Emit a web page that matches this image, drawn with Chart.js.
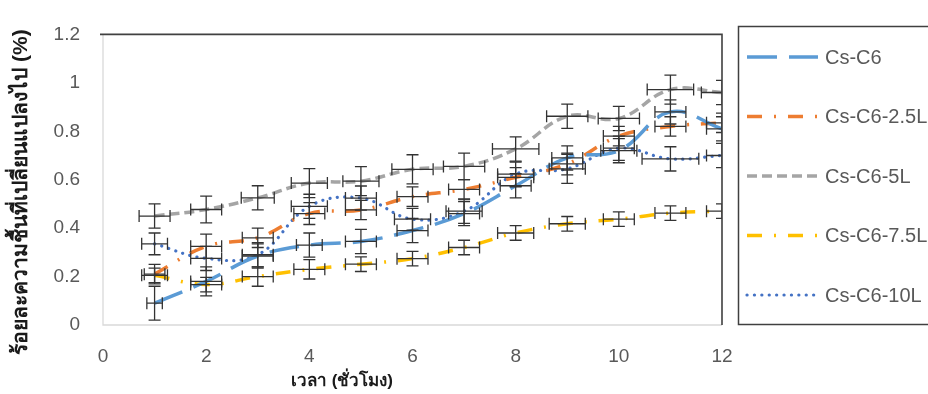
<!DOCTYPE html>
<html>
<head>
<meta charset="utf-8">
<script src="https://cdn.jsdelivr.net/npm/chart.js@4/dist/chart.umd.min.js"></script>
<style>
    html, body { margin: 0; padding: 0; background: #ffffff; }
    #grafico { display: block; }
</style>
</head>
<body>
<canvas id="grafico" width="928" height="394"></canvas>
<script>
// horas de medición
const horas = [1, 2, 3, 4, 5, 6, 7, 8, 9, 10, 11, 12];

const etiquetas = ["Cs-C6", "Cs-C6-2.5L", "Cs-C6-5L", "Cs-C6-7.5L", "Cs-C6-10L"];

// valores (%)
const csC6    = [0.09, 0.18, 0.285, 0.33, 0.345, 0.39, 0.46, 0.575, 0.69, 0.72, 0.88, 0.81];
const csC6_25 = [0.21, 0.325, 0.36, 0.46, 0.475, 0.53, 0.56, 0.61, 0.665, 0.78, 0.82, 0.835];
const csC6_5  = [0.45, 0.477, 0.525, 0.586, 0.594, 0.643, 0.655, 0.727, 0.862, 0.853, 0.972, 0.96];
const csC6_75 = [0.205, 0.167, 0.2, 0.23, 0.251, 0.274, 0.32, 0.38, 0.418, 0.437, 0.462, 0.47];
const csC6_10 = [0.335, 0.275, 0.29, 0.49, 0.524, 0.437, 0.47, 0.623, 0.645, 0.73, 0.686, 0.70];

// barras de error en y
const errY_csC6    = [0.07, 0.06, 0.05, 0.05, 0.05, 0.05, 0.05, 0.05, 0.05, 0.05, 0.05, 0.05];
const errY_csC6_25 = [0.04, 0.05, 0.04, 0.045, 0.04, 0.04, 0.04, 0.04, 0.045, 0.04, 0.04, 0.04];
const errY_csC6_5  = [0.05, 0.055, 0.05, 0.06, 0.06, 0.06, 0.055, 0.05, 0.05, 0.05, 0.06, 0.05];
const errY_csC6_75 = [0.03, 0.03, 0.04, 0.04, 0.03, 0.03, 0.03, 0.03, 0.03, 0.03, 0.03, 0.03];
const errY_csC6_10 = [0.045, 0.05, 0.05, 0.05, 0.05, 0.045, 0.05, 0.05, 0.06, 0.05, 0.05, 0.05];

// barras de error en x (horas)
const errX_csC6    = [0.15, 0.3, 0.3, 0.25, 0.3, 0.3, 0.3, 0.3, 0.3, 0.35, 0.3, 0.3];
const errX_csC6_25 = [0.2, 0.3, 0.3, 0.3, 0.3, 0.3, 0.3, 0.35, 0.3, 0.3, 0.3, 0.3];
const errX_csC6_5  = [0.3, 0.3, 0.32, 0.35, 0.35, 0.4, 0.4, 0.45, 0.4, 0.4, 0.45, 0.4];
const errX_csC6_75 = [0.25, 0.3, 0.3, 0.3, 0.3, 0.3, 0.3, 0.35, 0.35, 0.3, 0.3, 0.3];
const errX_csC6_10 = [0.25, 0.3, 0.3, 0.35, 0.3, 0.35, 0.35, 0.35, 0.35, 0.3, 0.55, 0.3];

const ticksX = [0, 2, 4, 6, 8, 10, 12];
const ticksY = [0, 0.2, 0.4, 0.6, 0.8, 1, 1.2];

const tituloX = "เวลา (ชั่วโมง)";
const tituloY = "ร้อยละความชื้นที่เปลี่ยนแปลงไป (%)";

const fuenteTexto = "'Liberation Sans', 'Noto Sans', 'DejaVu Sans', sans-serif";

function puntos(valores) {
    return horas.map((h, i) => ({ x: h, y: valores[i] }));
}

const estilos = [
    { color: "#5B9BD5", dash: [30, 12], cap: "butt", ancho: 3.5 },
    { color: "#ED7D31", dash: [15, 12, 2, 12], cap: "butt", ancho: 3.5 },
    { color: "#A5A5A5", dash: [10, 5], cap: "butt", ancho: 3.5 },
    { color: "#FFC000", dash: [15, 12, 2, 12], cap: "butt", ancho: 3.5 },
    { color: "#4472C4", dash: [0.1, 7.3], cap: "round", ancho: 3.2 }
];

const series = [csC6, csC6_25, csC6_5, csC6_75, csC6_10];
const erroresY = [errY_csC6, errY_csC6_25, errY_csC6_5, errY_csC6_75, errY_csC6_10];
const erroresX = [errX_csC6, errX_csC6_25, errX_csC6_5, errX_csC6_75, errX_csC6_10];

// barras de error, marco y leyenda
const extras = {
    id: "extras",
    afterDatasetsDraw(chart) {
        const ctx = chart.ctx;
        const area = chart.chartArea;
        const ex = chart.scales.x;
        const ey = chart.scales.y;
        ctx.save();
        ctx.beginPath();
        ctx.rect(area.left, area.top, area.right - area.left, area.bottom - area.top);
        ctx.clip();
        ctx.strokeStyle = "#333333";
        ctx.lineWidth = 1.3;
        const tapa = 6;
        series.forEach((valores, s) => {
            valores.forEach((v, i) => {
                const px = ex.getPixelForValue(horas[i]);
                const py = ey.getPixelForValue(v);
                const y1 = ey.getPixelForValue(v + erroresY[s][i]);
                const y2 = ey.getPixelForValue(v - erroresY[s][i]);
                const x1 = ex.getPixelForValue(horas[i] - erroresX[s][i]);
                const x2 = ex.getPixelForValue(horas[i] + erroresX[s][i]);
                ctx.beginPath();
                ctx.moveTo(px, y1); ctx.lineTo(px, y2);
                ctx.moveTo(px - tapa, y1); ctx.lineTo(px + tapa, y1);
                ctx.moveTo(px - tapa, y2); ctx.lineTo(px + tapa, y2);
                ctx.moveTo(x1, py); ctx.lineTo(x2, py);
                ctx.moveTo(x1, py - tapa); ctx.lineTo(x1, py + tapa);
                ctx.moveTo(x2, py - tapa); ctx.lineTo(x2, py + tapa);
                ctx.stroke();
            });
        });
        ctx.restore();
    },
    afterDraw(chart) {
        const ctx = chart.ctx;
        const area = chart.chartArea;
        ctx.save();
        // marco del área de trazado
        ctx.lineWidth = 1.3;
        ctx.strokeStyle = "#D9D9D9";
        ctx.beginPath();
        ctx.moveTo(area.left, area.top);
        ctx.lineTo(area.left, area.bottom);
        ctx.lineTo(area.right, area.bottom);
        ctx.stroke();
        ctx.strokeStyle = "#404040";
        ctx.lineWidth = 1.6;
        ctx.beginPath();
        ctx.moveTo(area.left - 3, area.top);
        ctx.lineTo(area.right, area.top);
        ctx.lineTo(area.right, area.bottom);
        ctx.stroke();

        // títulos de ejes
        ctx.fillStyle = "#1a1a1a";
        ctx.textAlign = "center";
        ctx.textBaseline = "middle";
        ctx.font = "bold 17px " + fuenteTexto;
        ctx.fillText(tituloX, 342, 381);
        ctx.save();
        ctx.translate(21, 192);
        ctx.rotate(-Math.PI / 2);
        ctx.font = "bold 21px " + fuenteTexto;
        ctx.fillText(tituloY, 0, 0);
        ctx.restore();

        // leyenda con recuadro
        ctx.strokeStyle = "#404040";
        ctx.lineWidth = 1.5;
        ctx.strokeRect(738.5, 26.5, 200, 298);
        chart.data.datasets.forEach((ds, i) => {
            const y = 57 + i * 59.5;
            ctx.strokeStyle = ds.borderColor;
            ctx.lineWidth = ds.borderWidth;
            ctx.lineCap = ds.borderCapStyle;
            ctx.setLineDash(ds.borderDash);
            ctx.beginPath();
            ctx.moveTo(747, y);
            ctx.lineTo(818, y);
            ctx.stroke();
            ctx.setLineDash([]);
            ctx.fillStyle = "#595959";
            ctx.font = "20px " + fuenteTexto;
            ctx.textAlign = "left";
            ctx.textBaseline = "middle";
            ctx.fillText(ds.label, 825, y + 1);
        });
        ctx.restore();
    }
};

new Chart(document.getElementById("grafico"), {
    type: "line",
    data: {
        datasets: series.map((valores, i) => ({
            label: etiquetas[i],
            data: puntos(valores),
            borderColor: estilos[i].color,
            backgroundColor: estilos[i].color,
            borderDash: estilos[i].dash,
            borderCapStyle: estilos[i].cap,
            borderWidth: estilos[i].ancho,
            pointRadius: 0,
            tension: 0.4,
            fill: false
        }))
    },
    options: {
        responsive: false,
        animation: false,
        events: [],
        layout: {
            padding: { top: 23, right: 206, bottom: 0, left: 0 }
        },
        plugins: {
            legend: { display: false },
            tooltip: { enabled: false }
        },
        scales: {
            x: {
                type: "linear",
                min: 0,
                max: 12,
                afterBuildTicks: escala => { escala.ticks = ticksX.map(v => ({ value: v })); },
                afterFit: escala => { escala.height = 69; },
                ticks: {
                    padding: 20,
                    color: "#595959",
                    font: { size: 19, family: fuenteTexto }
                },
                grid: { display: false, drawTicks: false },
                border: { display: false }
            },
            y: {
                min: 0,
                max: 1.2,
                afterBuildTicks: escala => { escala.ticks = ticksY.map(v => ({ value: v })); },
                afterFit: escala => { escala.width = 103; },
                ticks: {
                    padding: 23,
                    color: "#595959",
                    font: { size: 19, family: fuenteTexto },
                    callback: v => String(Math.round(v * 10) / 10)
                },
                grid: { display: false, drawTicks: false },
                border: { display: false }
            }
        }
    },
    plugins: [extras]
});
</script>
</body>
</html>
